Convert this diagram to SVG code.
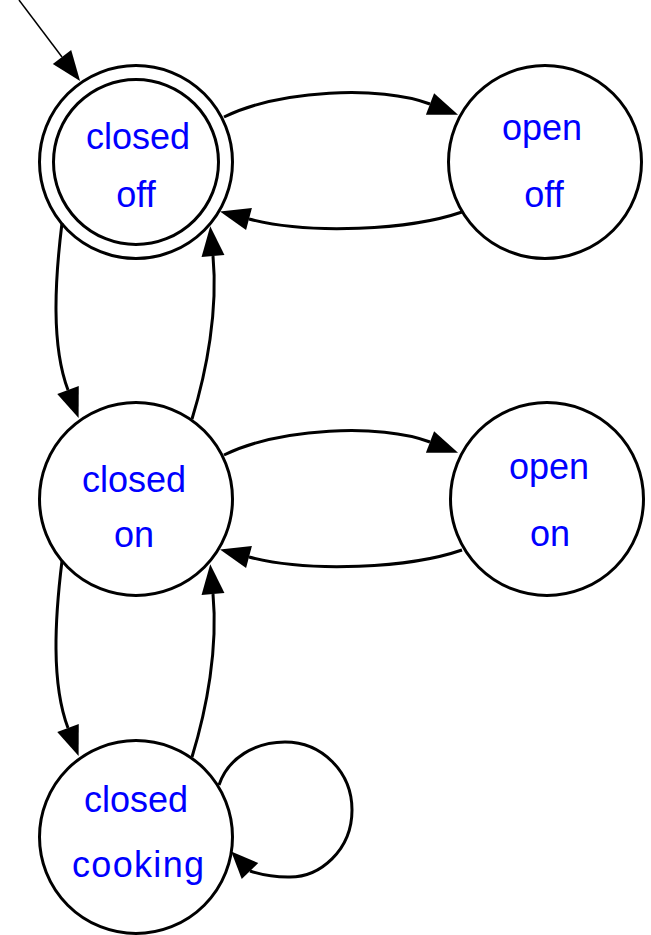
<svg xmlns="http://www.w3.org/2000/svg" width="651" height="935" viewBox="0 0 651 935">
<style>
.node circle{fill:none;stroke:#000;stroke-width:3}
.node text{font-family:"Liberation Sans",Arial,sans-serif;font-size:36px;fill:#0000ff;text-anchor:middle}
.edge path{fill:none;stroke:#000;stroke-width:3;marker-end:url(#ah)}
.edge path.init{stroke-width:1.5}
.edge path.loop{marker-end:url(#ahloop)}
</style>
<defs>
<marker id="ah" markerUnits="userSpaceOnUse" markerWidth="32" markerHeight="26" viewBox="0 -13 32 26" refX="0" refY="0" orient="auto" overflow="visible">
<path d="M0,-11.5 L30,0 L0,11.5 z" fill="#000"/>
</marker>
<marker id="ahloop" markerUnits="userSpaceOnUse" markerWidth="32" markerHeight="26" viewBox="0 -13 32 26" refX="0" refY="0" orient="226" overflow="visible">
<path d="M0,-11.5 L27,0 L0,11.5 z" fill="#000"/>
</marker>
</defs>
<rect width="651" height="935" fill="#fff"/>
<g id="edges" class="edge">
<path class="init" d="M19,0 L62,57"/>
<path d="M224,117 C280,90 380,85 430,104"/>
<path d="M462,212 C410,230 310,235 249,219"/>
<path d="M62,223 C55,280 51,345 68,390"/>
<path d="M192,419 C207,370 218,310 213,256"/>
<path d="M224,455 C280,428 380,423 430,442"/>
<path d="M462,550 C410,568 310,573 249,557"/>
<path d="M62,561 C55,618 51,683 68,728"/>
<path d="M192,757 C207,708 218,648 213,594"/>
<path class="loop" d="M219,785 C228,758 255,742 285,742 C322,742 352,772 352,810 C352,850 320,878 288,877 C272,877 259,874 250,871"/>
</g>
<g id="closed_off" class="node">
<circle cx="136" cy="162" r="96.5"/>
<circle cx="136" cy="162" r="82.5"/>
<text x="138" y="149">closed</text>
<text x="136" y="207">off</text>
</g>
<g id="open_off" class="node">
<circle cx="545" cy="162" r="96.5"/>
<text x="542" y="140">open</text>
<text x="544" y="207">off</text>
</g>
<g id="closed_on" class="node">
<circle cx="136" cy="499" r="96.5"/>
<text x="134" y="492">closed</text>
<text x="134" y="547">on</text>
</g>
<g id="open_on" class="node">
<circle cx="547" cy="499" r="96.5"/>
<text x="549" y="479">open</text>
<text x="550" y="546">on</text>
</g>
<g id="closed_cooking" class="node">
<circle cx="136" cy="837" r="96.5"/>
<text x="136" y="812">closed</text>
<text x="138" y="877" textLength="132" lengthAdjust="spacing">cooking</text>
</g>
</svg>
